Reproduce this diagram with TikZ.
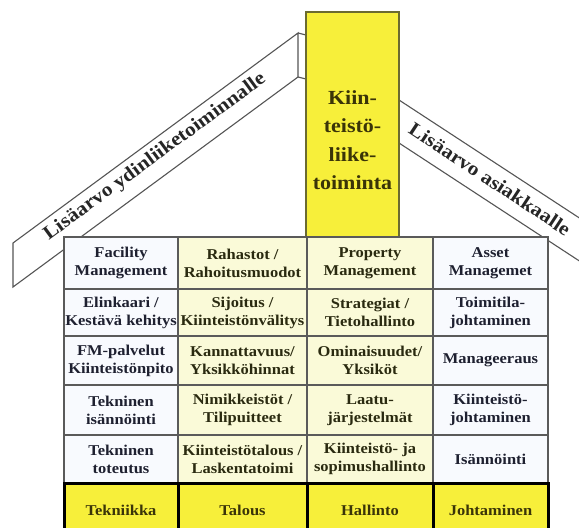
\documentclass[tikz,border=0pt]{standalone}
\usepackage{fontspec}
\setmainfont{Liberation Serif}[FakeStretch=1.1]
\definecolor{ybright}{HTML}{F7EF3A}
\definecolor{celly}{HTML}{FAFAD8}
\definecolor{cellw}{HTML}{F8FAFE}
\definecolor{gridc}{HTML}{5A5A5A}
\definecolor{txtw}{HTML}{1E2030}
\definecolor{txty}{HTML}{2A2A10}
\definecolor{txtb}{HTML}{3A3408}
\definecolor{bandline}{HTML}{555555}
\definecolor{towerline}{HTML}{6B6B30}
\begin{document}
\begin{tikzpicture}[x=1pt,y=-1pt,
  band/.style={draw=bandline, line width=1.1pt, fill=white, line join=miter},
  bandtext/.style={font={\fontsize{19.5}{20}\selectfont\bfseries}, text=black!85, inner sep=0pt},
  cell/.style={draw=gridc, line width=1.3pt, inner sep=0pt, outer sep=0pt, align=center,
    font={\fontsize{15}{18}\selectfont\bfseries}},
  cw/.style={cell, fill=cellw, text=txtw},
  cy/.style={cell, fill=celly, text=txty},
  cb/.style={cell, draw=black, line width=3pt, fill=ybright, text=txtb},
  colA/.style={minimum width=114pt},
  colB/.style={minimum width=129pt},
  colC/.style={minimum width=126pt},
  colD/.style={minimum width=115pt},
  rowh/.style={minimum height=#1},
  tower/.style={draw=towerline, line width=1.2pt, fill=ybright, minimum width=93pt, minimum height=225pt, inner sep=0pt},
  towertext/.style={align=center, font={\fontsize{20}{28.5}\selectfont\bfseries}, text=txtb, inner sep=0pt}
]
\path[use as bounding box] (0,0) rectangle (579,528);
\clip (0,0) rectangle (579,528);
\fill[white] (0,0) rectangle (579,528);

% left band
\draw[band] (13,243) -- (298,33) -- (298,77) -- (13,287) -- cycle;
\coordinate (lb1) at (298,33);
\coordinate (lb2) at (298,77);
\coordinate (lt1) at (306,35);
\coordinate (lt2) at (306,79);
\draw[bandline, line width=1.1pt] (lb1) -- (lt1) (lb2) -- (lt2);
\node[bandtext, rotate=36.2] (lbt) at (155,157) {Lisäarvo ydinliiketoiminnalle};

% right band
\draw[band] (399,100) -- (610,238) -- (610,281) -- (399,143) -- cycle;
\node[bandtext, rotate=-33.4] (rbt) at (490,179) {Lisäarvo asiakkaalle};

% tower
\node[tower] (tw) at (352.5,124.5) {};
\node[towertext] (twt) at (352.5,140) {Kiin-\\teistö-\\liike-\\toiminta};

% table row 1
\node[cw, colA, rowh=52pt] (c11) at (121,263) {Facility\\Management};
\node[cy, colB, rowh=52pt] (c12) at (242.5,263) {Rahastot /\\Rahoitusmuodot};
\node[cy, colC, rowh=52pt] (c13) at (370,263) {Property\\Management};
\node[cw, colD, rowh=52pt] (c14) at (490.5,263) {Asset\\Managemet};
% row 2
\node[cw, colA, rowh=47pt] (c21) at (121,312.5) {Elinkaari /\\Kestävä kehitys};
\node[cy, colB, rowh=47pt] (c22) at (242.5,312.5) {Sijoitus /\\Kiinteistönvälitys};
\node[cy, colC, rowh=47pt] (c23) at (370,312.5) {Strategiat /\\Tietohallinto};
\node[cw, colD, rowh=47pt] (c24) at (490.5,312.5) {Toimitila-\\johtaminen};
% row 3
\node[cw, colA, rowh=49pt] (c31) at (121,360.5) {FM-palvelut\\Kiinteistönpito};
\node[cy, colB, rowh=49pt] (c32) at (242.5,360.5) {Kannattavuus/\\Yksikköhinnat};
\node[cy, colC, rowh=49pt] (c33) at (370,360.5) {Ominaisuudet/\\Yksiköt};
\node[cw, colD, rowh=49pt] (c34) at (490.5,360.5) {Manageeraus};
% row 4
\node[cw, colA, rowh=50pt] (c41) at (121,410) {Tekninen\\isännöinti};
\node[cy, colB, rowh=50pt] (c42) at (242.5,410) {Nimikkeistöt /\\Tilipuitteet};
\node[cy, colC, rowh=50pt] (c43) at (370,410) {Laatu-\\järjestelmät};
\node[cw, colD, rowh=50pt] (c44) at (490.5,410) {Kiinteistö-\\johtaminen};
% row 5
\node[cw, colA, rowh=48pt] (c51) at (121,459) {Tekninen\\toteutus};
\node[cy, colB, rowh=48pt] (c52) at (242.5,459) {Kiinteistötalous /\\Laskentatoimi};
\node[cy, colC, rowh=48pt] (c53) at (370,459) {Kiinteistö- ja\\sopimushallinto};
\node[cw, colD, rowh=48pt] (c54) at (490.5,459) {Isännöinti};
% row 6
\node[cb, colA, rowh=54pt] (c61) at (121,510) {Tekniikka};
\node[cb, colB, rowh=54pt] (c62) at (242.5,510) {Talous};
\node[cb, colC, rowh=54pt] (c63) at (370,510) {Hallinto};
\node[cb, colD, rowh=54pt] (c64) at (490.5,510) {Johtaminen};
\end{tikzpicture}
\end{document}
